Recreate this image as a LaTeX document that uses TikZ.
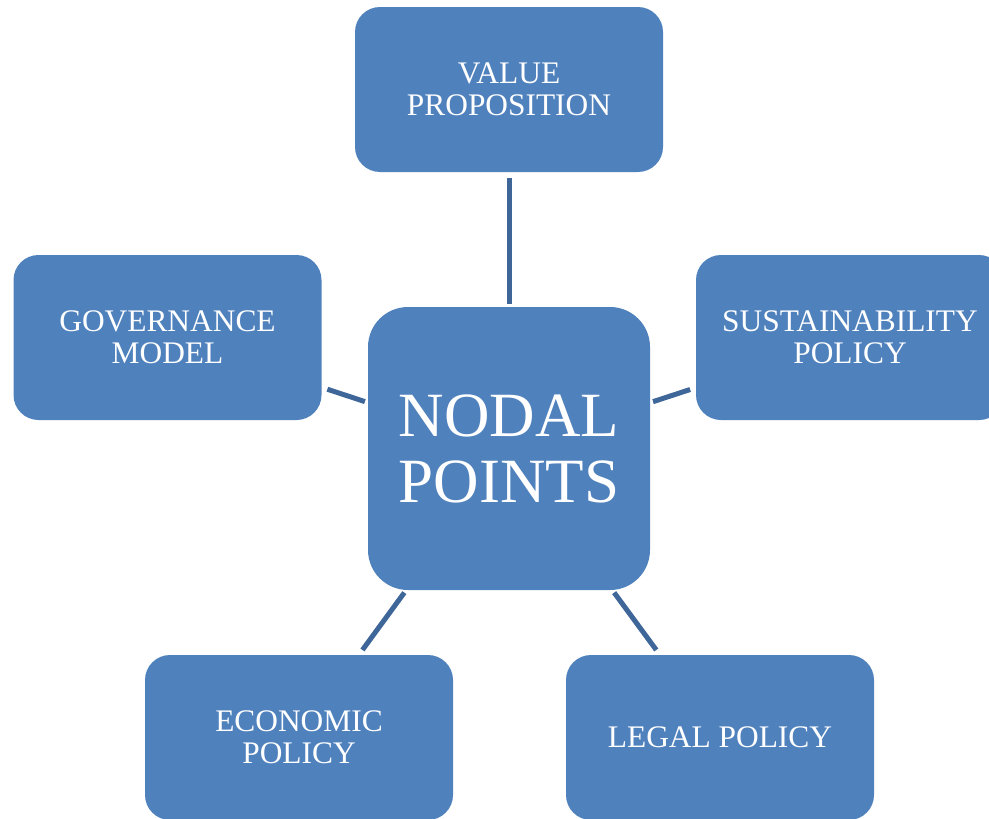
\documentclass[tikz,border=0pt]{standalone}
\usepackage{fontspec}
\setmainfont{Liberation Serif}
\definecolor{boxblue}{HTML}{4F81BD}
\definecolor{linkblue}{HTML}{3E6699}
\begin{document}
\begin{tikzpicture}[x=1pt,y=-1pt,
  box/.style={fill=boxblue, draw=none, rounded corners=25pt, inner sep=0pt,
    minimum width=308pt, minimum height=165pt, align=center, text=white,
    font=\fontsize{31.4}{32}\selectfont},
  hub/.style={box, rounded corners=40pt, minimum width=282pt, minimum height=283pt,
    font=\fontsize{63}{66}\selectfont},
  link/.style={draw=linkblue, line width=5pt, shorten <=3pt, shorten >=6pt}]
\useasboundingbox (0,0) rectangle (989,819);
\node[hub] (c) at (509,448.5) {NODAL\\POINTS};
\node[box] (v) at (509,89.5) {VALUE\\PROPOSITION};
\node[box] (g) at (167.5,337.5) {GOVERNANCE\\MODEL};
\node[box] (s) at (850,337.5) {SUSTAINABILITY\\POLICY};
\node[box] (e) at (299,737.5) {ECONOMIC\\POLICY};
\node[box] (l) at (720,737.5) {LEGAL POLICY};
\draw[link] (c) -- (v);
\draw[link] (c) -- (g);
\draw[link] (c) -- (s);
\draw[link] (c) -- (e);
\draw[link] (c) -- (l);
\end{tikzpicture}
\end{document}
